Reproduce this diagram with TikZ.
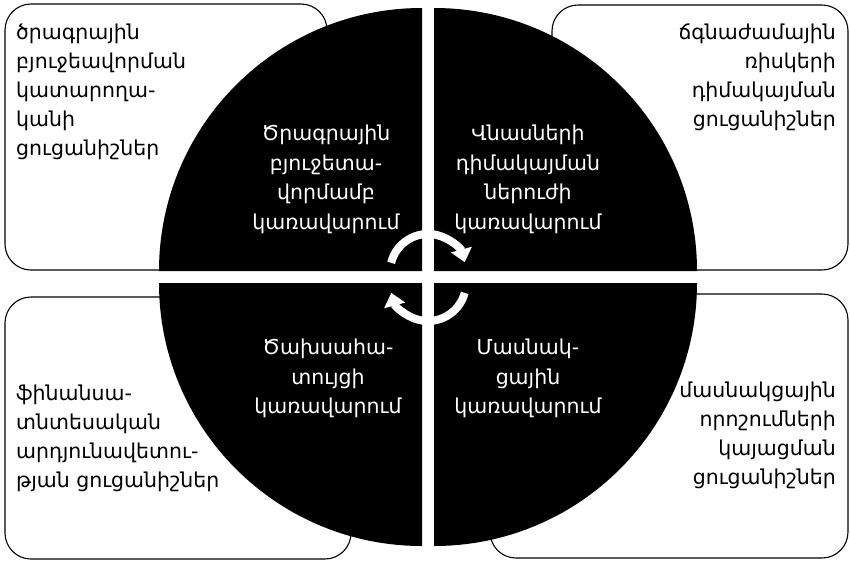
\documentclass[tikz,border=0pt]{standalone}
\usepackage{fontspec}
\setmainfont{DejaVu Sans}
\usetikzlibrary{arrows.meta}
\begin{document}
\begin{tikzpicture}[x=1pt,y=-1pt,
  box/.style={draw=black, line width=1.1pt, fill=white, rounded corners=26pt},
  quad/.style={fill=black},
  boxtxt/.style={font=\fontsize{20.5}{29}\selectfont, inner sep=0pt, text=black},
  quadtxt/.style={font=\fontsize{20.5}{29.5}\selectfont, inner sep=0pt, text=white, align=center},
  cyc/.style={draw=white, line width=8pt, -{Triangle[width=21pt,length=13pt]}}
]
\useasboundingbox (0,0) rectangle (850,560);
\fill[white] (0,0) rectangle (850,560);
% corner boxes
\draw[box] (5,4) rectangle (327,270);
\draw[box] (552,5) rectangle (848,270);
\draw[box] (5,297) rectangle (351,559);
\draw[box] (490,294) rectangle (848,558);
% quadrants
\fill[quad] (422,271) -- (159,271) arc[start angle=180,end angle=270,radius=263] -- cycle;
\fill[quad] (434,271) -- (434,8) arc[start angle=270,end angle=360,radius=263] -- cycle;
\fill[quad] (422,283) -- (422,546) arc[start angle=90,end angle=180,radius=263] -- cycle;
\fill[quad] (434,283) -- (697,283) arc[start angle=0,end angle=90,radius=263] -- cycle;
% box texts
\node[boxtxt, anchor=north west, align=left] (t1) at (16,24) {ծրագրային\\բյուջեավորման\\կատարողա-\\կանի\\ցուցանիշներ};
\node[boxtxt, anchor=north east, align=right] (t2) at (836,24) {ճգնաժամային\\ռիսկերի\\դիմակայման\\ցուցանիշներ};
\node[boxtxt, anchor=north west, align=left] (t3) at (16,385) {ֆինանսա-\\տնտեսական\\արդյունավետու-\\թյան ցուցանիշներ};
\node[boxtxt, anchor=north east, align=right] (t4) at (836,382) {մասնակցային\\որոշումների\\կայացման\\ցուցանիշներ};
% quadrant texts
\node[quadtxt, anchor=north] (q1) at (326,125) {Ծրագրային\\բյուջետա-\\վորմամբ\\կառավարում};
\node[quadtxt, anchor=north] (q2) at (528,125) {Վնասների\\դիմակայման\\ներուժի\\կառավարում};
\node[quadtxt, anchor=north] (q3) at (328,339) {Ծախսահա-\\տույցի\\կառավարում};
\node[quadtxt, anchor=north] (q4) at (528,339) {Մասնակ-\\ցային\\կառավարում};
% cycle arrows
\draw[cyc] (428,272) ++(194:38) arc[start angle=194,end angle=345,radius=38];
\draw[cyc] (428,283) ++(15:38) arc[start angle=15,end angle=165,radius=38];
\end{tikzpicture}
\end{document}
